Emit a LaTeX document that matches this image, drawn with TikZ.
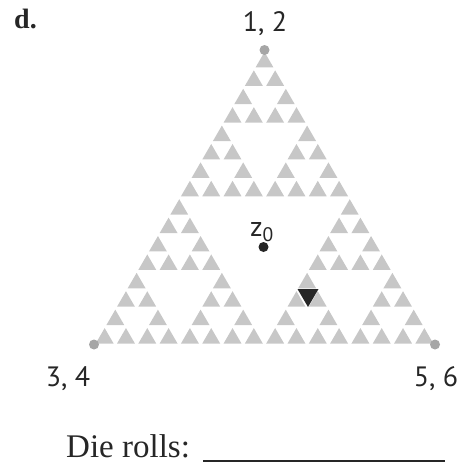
\documentclass[tikz,border=0pt]{standalone}
\usepackage{fontspec}
\setmainfont{Liberation Serif}
\newfontfamily\labelfont{PT Sans}
\tikzset{
  tri/.style={fill=black!22},
  cornerdot/.style={circle,fill=black!35,inner sep=0pt,minimum size=10pt},
  startdot/.style={circle,fill=black!85,inner sep=0pt,minimum size=10pt},
  vlabel/.style={inner sep=0pt,text=black!85,font=\labelfont\fontsize{28}{30}\selectfont},
  marker/.style={fill=black!85},
}
\begin{document}
\begin{tikzpicture}[x=1pt,y=-1pt]
\useasboundingbox (0,0) rectangle (468,463);
% Sierpinski gasket, level 4, each smallest triangle shrunk about its centroid
\def\fs{0.84}
\foreach \xa/\ya in {0/0,-1/1,1/1}{
 \foreach \xb/\yb in {0/0,-1/1,1/1}{
  \foreach \xc/\yc in {0/0,-1/1,1/1}{
   \foreach \xd/\yd in {0/0,-1/1,1/1}{
     \pgfmathsetmacro\px{264.5+170.5*(\xa/2+\xb/4+\xc/8+\xd/16)}
     \pgfmathsetmacro\py{50+294.5*(\ya/2+\yb/4+\yc/8+\yd/16)}
     \pgfmathsetmacro\cy{\py+12.27}
     \fill[tri] (\px,\cy-12.27*\fs) -- (\px-10.66*\fs,\cy+6.14*\fs) -- (\px+10.66*\fs,\cy+6.14*\fs) -- cycle;
   }}}}
% corner dots
\node[cornerdot] (top) at (264.5,50) {};
\node[cornerdot] (left) at (94,344.5) {};
\node[cornerdot] (right) at (435,344.5) {};
% labels
\node[inner sep=0pt,font=\bfseries\fontsize{28}{30}\selectfont,text=black!85,anchor=base west] (d) at (14,28) {d.};
\node[vlabel,anchor=base] (l12) at (265,31) {1, 2};
\node[vlabel,anchor=base] (l34) at (68,386) {3, 4};
\node[vlabel,anchor=base] (l56) at (436,386) {5, 6};
% starting point
\node[startdot] (z0) at (263.5,247) {};
\node[inner sep=0pt,anchor=base west,text=black!85,font=\labelfont\fontsize{28}{30}\selectfont] (z0lab) at (250,236) {z\textsubscript{0}};
% marker triangle
\fill[marker] (297.5,289) -- (318.5,289) -- (308,307) -- cycle;
% die rolls
\node[inner sep=0pt,anchor=base west,text=black!85,font=\fontsize{33}{36}\selectfont] (rolls) at (66,457) {Die rolls:};
\coordinate (ls) at (203,461);
\coordinate (le) at (445,461);
\draw[line width=1.6pt,black!85] (ls) -- (le);
\end{tikzpicture}
\end{document}
